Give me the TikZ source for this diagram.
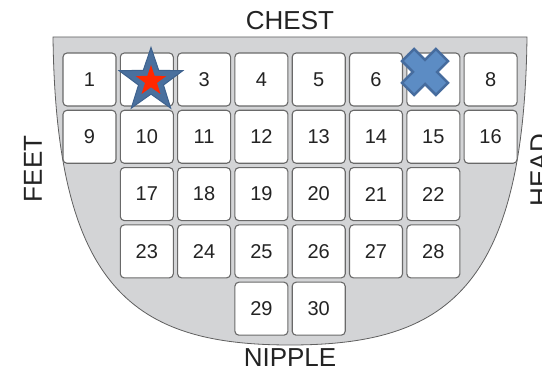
\documentclass[tikz,border=0pt]{standalone}
\usepackage{fontspec}
\setmainfont{Liberation Sans}
\usetikzlibrary{
  shapes.geometric
}
\definecolor{bodycolor}{RGB}{211, 212, 214}
\definecolor{edgecolor}{RGB}{95, 95, 95}
\definecolor{cellborder}{RGB}{105, 105, 105}
\definecolor{labelcolor}{RGB}{35, 35, 35}
\definecolor{starcolor}{RGB}{74, 112, 158}
\definecolor{starborder}{RGB}{62, 98, 142}
\definecolor{starcore}{RGB}{255, 40, 0}
\definecolor{markcolor}{RGB}{92, 140, 196}
\definecolor{markborder}{RGB}{70, 108, 158}
\tikzset{
cell/.style={
  draw=cellborder,
  line width=1.1pt,
  fill=white,
  rounded corners=4pt,
  minimum width=53pt,
  minimum height=53pt,
  inner sep=0pt,
  font=\fontsize{20}{20}\selectfont,
  text=labelcolor
},
sidelabel/.style={
  font=\fontsize{26}{26}\selectfont,
  text=labelcolor,
  inner sep=0pt
},
body/.style={
  fill=bodycolor,
  draw=edgecolor,
  line width=0.8pt
},
bigstar/.style={
  star,
  star points=5,
  star point ratio=2.55,
  inner sep=0pt,
  fill=starcolor,
  draw=starborder,
  line width=1pt
},
corestar/.style={
  star,
  star points=5,
  star point ratio=2.55,
  inner sep=0pt,
  fill=starcore
},
xmark/.style={
  fill=markcolor,
  draw=markborder,
  line width=2.5pt,
  line join=miter
}
}
\begin{document}
\begin{tikzpicture}[x=1pt, y=-1pt]
  \useasboundingbox (0,0) rectangle (542,371);
  \clip (0,0) rectangle (542,371);
  % bed outline
  \path[body] (53,37) -- (527,37)
    .. controls (524,290) and (445,345) .. (290,345)
    .. controls (135,345) and (56,290) .. (53,37) -- cycle;
  % side labels
  \node[sidelabel] (chest) at (290,21) {CHEST};
  \node[sidelabel] (nipple) at (290,358) {NIPPLE};
  \node[sidelabel, rotate=90] (feet) at (33,169) {FEET};
  \node[sidelabel, rotate=90] (head) at (539.5,170) {HEAD};
  % cells
  \foreach \n in {1,...,8}
    \node[cell] (c\n) at ({89.5+57.3*(\n-1)},79.5) {\ifnum\n=2 \else\ifnum\n=7 \else\n\fi\fi};
  \foreach \n in {9,...,16}
    \node[cell] (c\n) at ({89.5+57.3*(\n-9)},136.8) {\n};
  \foreach \n in {17,...,22}
    \node[cell] (c\n) at ({89.5+57.3*(\n-16)},194.1) {\n};
  \foreach \n in {23,...,28}
    \node[cell] (c\n) at ({89.5+57.3*(\n-22)},251.4) {\n};
  \foreach \n in {29,30}
    \node[cell] (c\n) at ({89.5+57.3*(\n-26)},308.7) {\n};
  % markers
  \node[bigstar, minimum size=67pt] (star) at (151,81) {};
  \node[corestar, minimum size=32pt] (starcore) at (151,81) {};
  \draw[xmark, shift={(425,72)}, rotate=45]
    (-8.5,24) -- (8.5,24) -- (8.5,8.5) -- (24,8.5) -- (24,-8.5) -- (8.5,-8.5)
    -- (8.5,-24) -- (-8.5,-24) -- (-8.5,-8.5) -- (-24,-8.5) -- (-24,8.5)
    -- (-8.5,8.5) -- cycle;
\end{tikzpicture}
\end{document}
